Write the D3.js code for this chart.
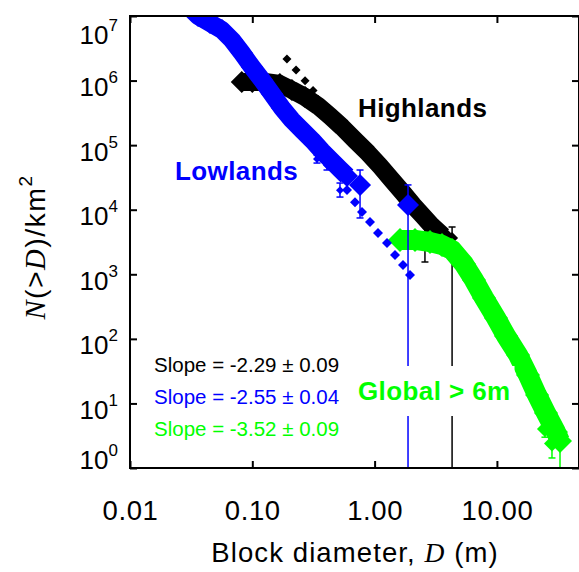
<!DOCTYPE html>
<html>
<head>
<meta charset="utf-8">
<script src="https://cdn.jsdelivr.net/npm/d3@7"></script>
<style>
body { margin: 0; background: #fff; }
text { font-family: "Liberation Sans", Arial, Helvetica, sans-serif; }
.serif { font-family: "Liberation Serif", "Times New Roman", serif; font-style: italic; }
</style>
</head>
<body>
<div id="chart"></div>
<script>
// Highlands (black)
const highD = [0.082, 0.100, 0.127, 0.168, 0.211, 0.270, 0.345, 0.432, 0.541, 0.691, 0.883, 1.107, 1.388, 1.707, 2.061, 2.488, 2.946, 3.62];
const highN = [9.5e5, 9.5e5, 9.5e5, 8.86e5, 7.15e5, 5.57e5, 4.04e5, 2.82e5, 1.91e5, 1.20e5, 7.56e4, 4.75e4, 2.88e4, 1.82e4, 1.18e4, 8.0e3, 5.6e3, 3.92e3];
const highErrD = [2.58, 4.3];
const highErrN = [6.93e3, 3.65e3];
const highErrLo = [1.55e3, 0];
const highErrHi = [9.2e3, 5.4e3];
const highFitD = [0.192, 0.228, 0.270, 0.314];
const highFitN = [2.16e6, 1.46e6, 9.9e5, 7.0e5];

// Lowlands (blue)
const lowD = [0.0298, 0.0360, 0.0451, 0.0565, 0.0682, 0.0823, 0.0994, 0.120, 0.145, 0.175, 0.211, 0.255, 0.308, 0.371, 0.448, 0.521, 0.595];
const lowN = [1.43e7, 1.0e7, 7.8e6, 6.07e6, 4.25e6, 2.67e6, 1.62e6, 1.02e6, 6.19e5, 3.76e5, 2.45e5, 1.71e5, 1.20e5, 8.11e4, 5.68e4, 4.27e4, 3.33e4];
const lowErrD = [0.338, 0.408, 0.521];
const lowErrN = [6.1e4, 4.9e4, 2.0e4];
const lowErrLo = [5.28e4, 4.12e4, 1.57e4];
const lowErrHi = [7.03e4, 5.89e4, 2.59e4];
const lowBinD = [0.760, 1.876];
const lowBinN = [2.42e4, 1.18e4];
const lowBinLo = [7.45e3, 0];
const lowBinHi = [4.12e4, 2.42e4];
const lowFitD = [0.595, 0.691, 0.789, 0.917, 1.066, 1.263, 1.468, 1.707, 1.948];
const lowFitN = [2.02e4, 1.31e4, 9.23e3, 6.46e3, 4.36e3, 3.05e3, 1.99e3, 1.39e3, 975];

// Global > 6m (green)
const globD = [1.613, 2.14, 2.838, 3.557, 4.30, 5.38, 6.50, 7.84, 9.83, 11.87, 14.9, 17.96, 21.3, 25.2, 30.4, 32.8];
const globN = [3.4e3, 3.4e3, 3.16e3, 2.84e3, 2.38e3, 1.44e3, 815, 430, 211, 111, 56.2, 27.5, 13.5, 7.11, 3.61, 2.62];
const globErrD = [24.7, 28.2, 32.8];
const globErrN = [4.0, 2.4, 2.62];
const globErrLo = [3.0, 1.43, 0];
const globErrHi = [5.0, 3.87, 3.4];

// axes
const xTicks = [0.01, 0.1, 1, 10];
const yTicks = [1, 10, 100, 1e3, 1e4, 1e5, 1e6, 1e7];
const slopes = ['-2.29 ± 0.09', '-2.55 ± 0.04', '-3.52 ± 0.09'];

const color = { high: '#000000', low: '#0000ff', glob: '#00ff00' };

const svgWidth = 579, svgHeight = 572;
const margin = { top: 16, left: 130, right: 0, bottom: 104 };
const plotW = svgWidth - margin.left - margin.right;
const plotH = svgHeight - margin.top - margin.bottom;

const svg = d3.select('#chart')
    .append('svg')
    .attr('width', svgWidth)
    .attr('height', svgHeight);

const x = d3.scaleLog().domain([0.01, 46.9]).range([margin.left, margin.left + plotW]);
const y = d3.scaleLog().domain([1, 1e7]).range([margin.top + plotH, margin.top]);
const yv = v => y(Math.max(v, 1e-3));

svg.append('clipPath').attr('id', 'clip')
    .append('rect')
    .attr('x', margin.left).attr('y', margin.top)
    .attr('width', plotW).attr('height', plotH);

const plot = svg.append('g').attr('clip-path', 'url(#clip)');

const diamond = r => `M0,${-r}L${r},0L0,${r}L${-r},0Z`;
const zip = (a, b) => a.map((d, i) => [d, b[i]]);

//thick band made of overlapping diamonds
const drawBand = (ds, ns, col, r, w) => {
    const pts = zip(ds, ns);
    plot.append('path')
        .datum(pts)
        .attr('d', d3.line().x(d => x(d[0])).y(d => y(d[1])))
        .attr('fill', 'none')
        .attr('stroke', col)
        .attr('stroke-width', w)
        .attr('stroke-linejoin', 'round');
    plot.selectAll(null).data(pts).enter()
        .append('path')
        .attr('d', diamond(r))
        .attr('transform', d => `translate(${x(d[0])},${y(d[1])})`)
        .attr('fill', col);
};

const drawErr = (ds, ns, lo, hi, col, r) => {
    const pts = ds.map((d, i) => ({ d: d, n: ns[i], lo: lo[i], hi: hi[i] }));
    const g = plot.append('g').attr('stroke', col).attr('stroke-width', 1.5);
    pts.forEach(p => {
        const cx = x(p.d);
        g.append('line').attr('x1', cx).attr('x2', cx).attr('y1', yv(p.hi)).attr('y2', yv(p.lo));
        g.append('line').attr('x1', cx - 3.5).attr('x2', cx + 3.5).attr('y1', yv(p.hi)).attr('y2', yv(p.hi));
        g.append('line').attr('x1', cx - 3.5).attr('x2', cx + 3.5).attr('y1', yv(p.lo)).attr('y2', yv(p.lo));
    });
    plot.selectAll(null).data(pts).enter()
        .append('path')
        .attr('d', diamond(r))
        .attr('transform', p => `translate(${x(p.d)},${y(p.n)})`)
        .attr('fill', col);
};

const drawFit = (ds, ns, col, r) => {
    plot.selectAll(null).data(zip(ds, ns)).enter()
        .append('path')
        .attr('d', diamond(r))
        .attr('transform', d => `translate(${x(d[0])},${y(d[1])})`)
        .attr('fill', col);
};

drawFit(highFitD, highFitN, color.high, 4.5);
drawBand(highD, highN, color.high, 11, 18);
drawErr(highErrD, highErrN, highErrLo, highErrHi, color.high, 6);

drawBand(globD, globN, color.glob, 12, 20);
drawErr(globErrD, globErrN, globErrLo, globErrHi, color.glob, 8);

drawFit(lowFitD, lowFitN, color.low, 5);
drawBand(lowD, lowN, color.low, 11, 18);
drawErr(lowErrD, lowErrN, lowErrLo, lowErrHi, color.low, 4);
drawErr(lowBinD, lowBinN, lowBinLo, lowBinHi, color.low, 11);

//frame and ticks
const axisStyle = g => {
    g.select('.domain').remove();
    g.selectAll('.tick line').attr('stroke', '#000').attr('stroke-width', 2);
};
svg.append('g').attr('transform', `translate(0,${margin.top + plotH})`)
    .call(d3.axisBottom(x).tickValues(xTicks).tickSize(-7).tickFormat(d3.format('.2f')))
    .call(axisStyle)
    .call(g => g.selectAll('.tick text')
        .attr('y', 52).attr('dy', 0)
        .attr('font-size', 27.5).attr('fill', '#000')
        .attr('letter-spacing', 0.6)
        .attr('font-family', '"Liberation Sans", Arial, sans-serif'));
svg.append('g').attr('transform', `translate(0,${margin.top})`)
    .call(d3.axisTop(x).tickValues(xTicks).tickSize(-7).tickFormat(''))
    .call(axisStyle);
svg.append('g').attr('transform', `translate(${margin.left + plotW},0)`)
    .call(d3.axisRight(y).tickValues(yTicks).tickSize(-7).tickFormat(''))
    .call(axisStyle);
const yAxis = svg.append('g').attr('transform', `translate(${margin.left},0)`)
    .call(d3.axisLeft(y).tickValues(yTicks).tickSize(-7).tickFormat(''))
    .call(axisStyle);

yAxis.selectAll('.tick text').remove();
yAxis.selectAll('.tick').each(function (d) {
    const e = Math.round(Math.log10(d));
    const base = Math.min(Math.max(15, margin.top + 27 - y(d)), margin.top + plotH - y(d));
    const t = d3.select(this).append('text')
        .attr('x', -12).attr('y', base)
        .attr('text-anchor', 'end')
        .attr('fill', '#000')
        .attr('font-size', 26);
    t.append('tspan').text('10');
    t.append('tspan').attr('dy', -13).attr('font-size', 17).text(e);
});

svg.append('rect')
    .attr('x', margin.left).attr('y', margin.top)
    .attr('width', plotW).attr('height', plotH)
    .attr('fill', 'none').attr('stroke', '#000').attr('stroke-width', 2);

//axis titles
const xt = svg.append('text')
    .attr('x', 355).attr('y', 562)
    .attr('text-anchor', 'middle')
    .attr('letter-spacing', 1.1)
    .attr('font-size', 27.5);
xt.append('tspan').text('Block diameter, ');
xt.append('tspan').attr('class', 'serif').text('D');
xt.append('tspan').text(' (m)');

const yt = svg.append('text')
    .attr('transform', 'translate(45,247) rotate(-90)')
    .attr('text-anchor', 'middle')
    .attr('letter-spacing', 1.5)
    .attr('font-size', 28.5);
yt.append('tspan').attr('class', 'serif').text('N');
yt.append('tspan').text('(>');
yt.append('tspan').attr('class', 'serif').text('D');
yt.append('tspan').text(')/km');
yt.append('tspan').attr('dy', -13).attr('font-size', 19).text('2');

//labels
const label = (txt, px, py, col) => svg.append('text')
    .attr('x', px).attr('y', py)
    .attr('fill', col)
    .attr('font-size', 26)
    .attr('letter-spacing', 0.4)
    .attr('font-weight', 'bold')
    .text(txt);

label('Highlands', 358, 117, color.high);
label('Lowlands', 175, 180, color.low);
const gl = label('Global > 6m', 358, 400, color.glob);
const bb = gl.node().getBBox();
svg.insert('rect', () => gl.node())
    .attr('x', bb.x - 4).attr('y', bb.y - 10)
    .attr('width', bb.width + 8).attr('height', bb.height + 20)
    .attr('fill', '#fff');

[color.high, color.low, color.glob].forEach((c, i) => {
    svg.append('text')
        .attr('x', 154).attr('y', 372 + i * 32)
        .attr('fill', c)
        .attr('font-size', 20.5)
        .text(`Slope = ${slopes[i]}`);
});
</script>
</body>
</html>
